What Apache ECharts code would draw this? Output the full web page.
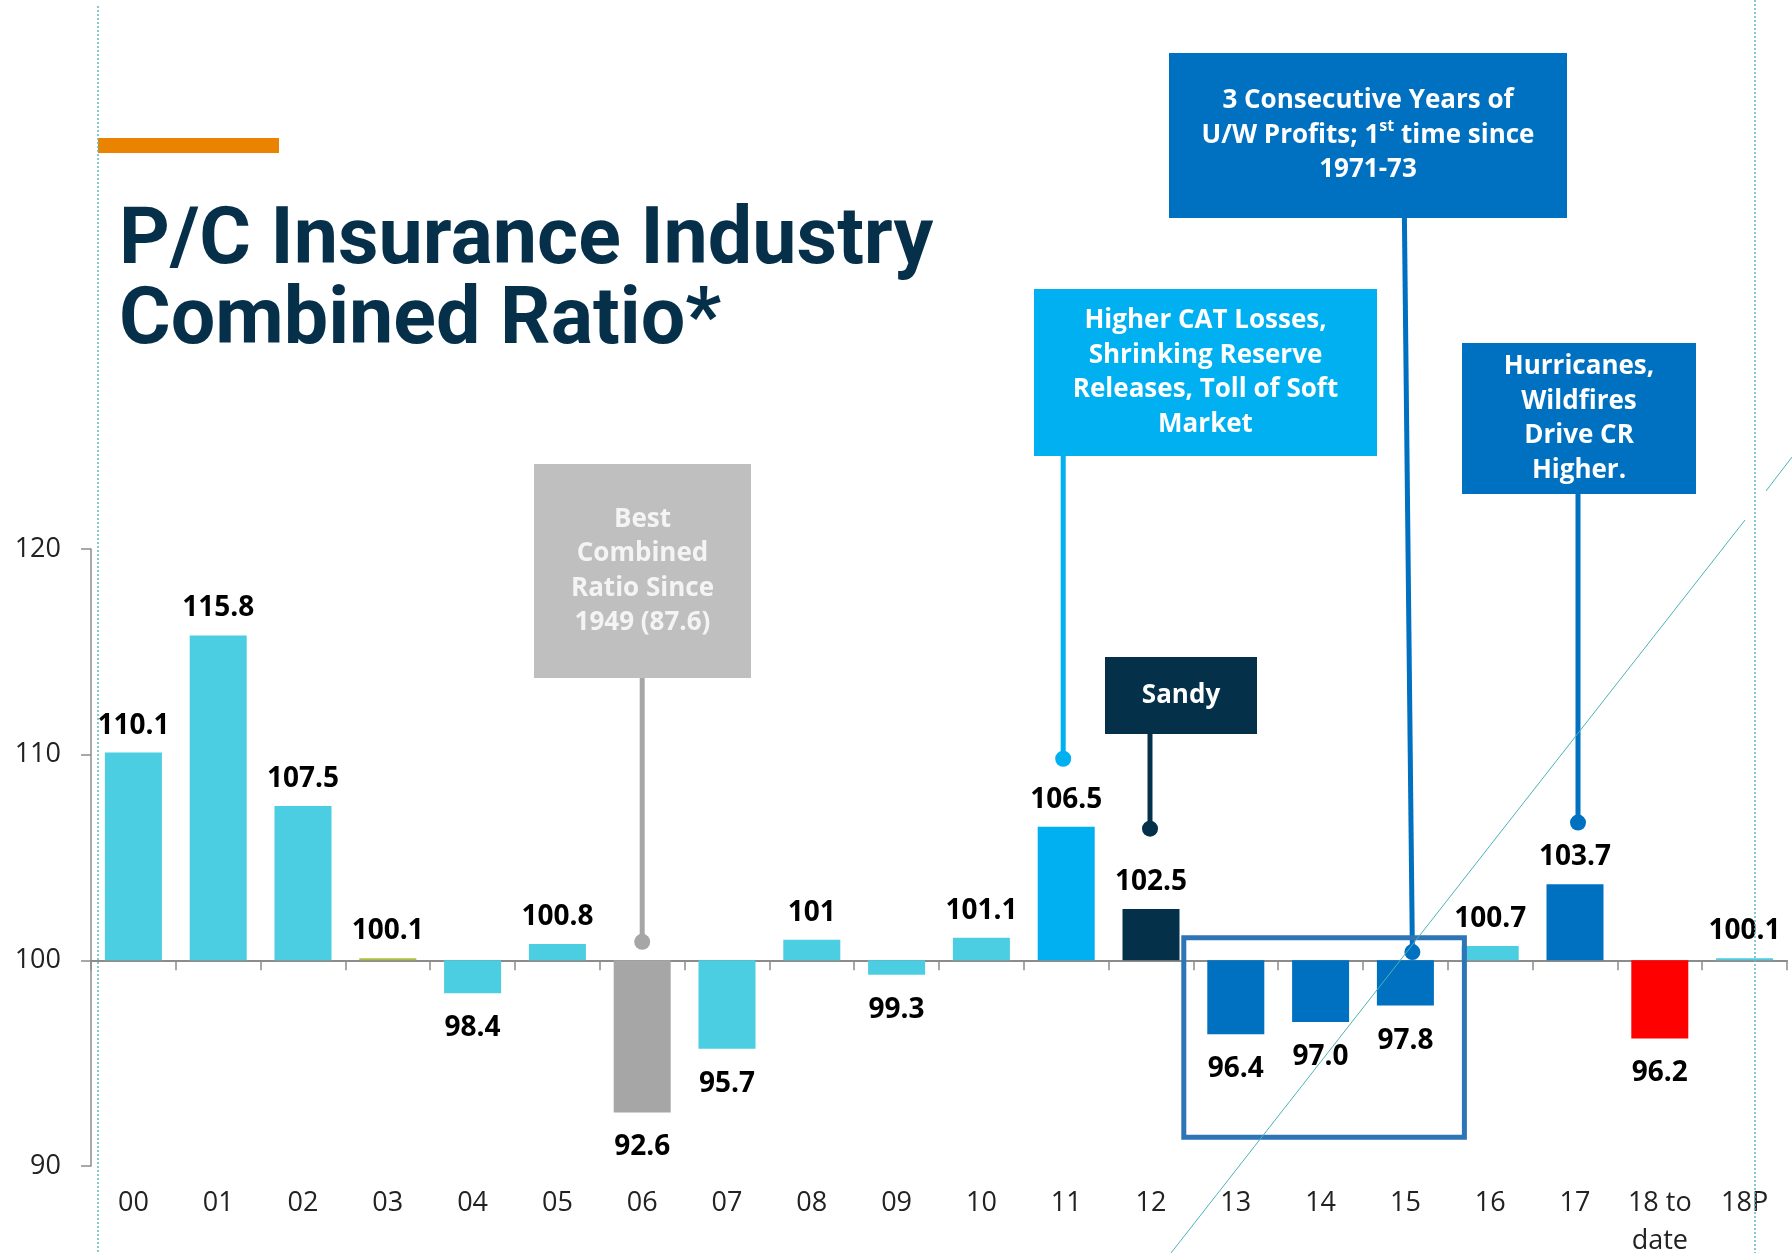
<!DOCTYPE html>
<html>
<head>
<meta charset="utf-8">
<title>P/C Insurance Industry Combined Ratio</title>
<script src="https://cdn.jsdelivr.net/npm/echarts@6/dist/echarts.min.js"></script>
<style>
  html, body { margin: 0; padding: 0; background: #fff; }
  #chart { width: 1792px; height: 1253px; }
</style>
</head>
<body>
<div id="chart"></div>
<script>
// data
const years = ["00", "01", "02", "03", "04", "05", "06", "07", "08", "09",
  "10", "11", "12", "13", "14", "15", "16", "17", "18 to\ndate", "18P"];
const combinedRatio = [110.1, 115.8, 107.5, 100.1, 98.4, 100.8, 92.6, 95.7, 101.0, 99.3,
  101.1, 106.5, 102.5, 96.4, 97.0, 97.8, 100.7, 103.7, 96.2, 100.1];
const ratioLabels = ["110.1", "115.8", "107.5", "100.1", "98.4", "100.8", "92.6", "95.7", "101", "99.3",
  "101.1", "106.5", "102.5", "96.4", "97.0", "97.8", "100.7", "103.7", "96.2", "100.1"];
const yTicks = [90, 100, 110, 120];
const BASE = 100;

// callouts: text, year they point at, value where the pin sits
const calloutText = [
  "Best\nCombined\nRatio Since\n1949 (87.6)",
  "Higher CAT Losses,\nShrinking Reserve\nReleases, Toll of Soft\nMarket",
  "Sandy",
  "3 Consecutive Years of\nU/W Profits; 1{s|st} time since\n1971-73",
  "Hurricanes,\nWildfires\nDrive CR\nHigher."
];
const calloutYear = [6, 11, 12, 15, 17];
const calloutPin = [100.9, 109.8, 106.4, 100.4, 106.7];

// styles
const cyan = "#4BCDE2", grayBar = "#A6A6A6", brightBlue = "#00B0F0",
  navy = "#04304A", blue = "#0070C0", red = "#FF0000";
const barColors = [cyan, cyan, cyan, "#A9C23F", cyan, cyan, grayBar, cyan, cyan, cyan,
  cyan, brightBlue, navy, blue, blue, blue, cyan, blue, red, cyan];
const boxes = [
  { x: 534, y: 464, w: 217, h: 214, fill: "#BFBFBF", text: "#F4F4F4", pin: grayBar, dx: 0, topDx: 0 },
  { x: 1034, y: 289, w: 343, h: 167, fill: brightBlue, text: "#fff", pin: brightBlue, dx: -3, topDx: -3 },
  { x: 1105, y: 657, w: 152, h: 77, fill: navy, text: "#fff", pin: navy, dx: -1, topDx: -1 },
  { x: 1169, y: 53, w: 398, h: 165, fill: blue, text: "#fff", pin: blue, dx: 7, topDx: -1 },
  { x: 1462, y: 343, w: 234, h: 151, fill: blue, text: "#fff", pin: blue, dx: 3, topDx: 3 }
];
const bodyFont = "'Open Sans', sans-serif";
const axisGray = "#8C8C8C";

const chart = echarts.init(document.getElementById("chart"), null, { renderer: "canvas" });

const option = {
  animation: false,
  backgroundColor: "#fff",
  grid: { left: 91, right: 5, top: 549, bottom: 87, containLabel: false, outerBoundsMode: "none" },
  xAxis: [
    {
      type: "category",
      data: years,
      position: "bottom",
      axisLine: { show: false, onZero: false },
      axisTick: { show: false },
      axisLabel: {
        margin: 18,
        fontFamily: bodyFont,
        fontSize: 27,
        lineHeight: 38,
        color: "#222"
      }
    },
    {
      type: "category",
      data: years,
      position: "bottom",
      axisLine: { show: true, onZero: true, lineStyle: { color: axisGray, width: 2 } },
      axisTick: { show: true, length: 10, lineStyle: { color: axisGray, width: 1.5 } },
      axisLabel: { show: false }
    }
  ],
  yAxis: {
    type: "value",
    min: yTicks[0] - BASE,
    max: yTicks[yTicks.length - 1] - BASE,
    interval: 10,
    splitLine: { show: false },
    axisLine: { show: true, lineStyle: { color: axisGray, width: 1.5 } },
    axisTick: { show: true, length: 10, lineStyle: { color: axisGray, width: 1.5 } },
    axisLabel: {
      margin: 30,
      fontFamily: bodyFont,
      fontSize: 27,
      color: "#222",
      formatter: (v) => String(v + BASE)
    }
  },
  series: [
    {
      type: "bar",
      xAxisIndex: 0,
      yAxisIndex: 0,
      barWidth: 57,
      data: combinedRatio.map((v, i) => ({
        value: +(v - BASE).toFixed(1),
        itemStyle: { color: barColors[i] },
        label: { distance: v < BASE ? 21 : 13 }
      })),
      label: {
        show: true,
        position: "outside",
        formatter: (p) => ratioLabels[p.dataIndex],
        fontFamily: bodyFont,
        fontWeight: "bold",
        fontSize: 28,
        color: "#000"
      }
    }
  ]
};

chart.setOption(option);

const toPx = (i, v) => chart.convertToPixel({ xAxisIndex: 0, yAxisIndex: 0 }, [i, v - BASE]);

const graphics = [];

// slide decoration
graphics.push({
  type: "line", silent: true, z: 50,
  shape: { x1: 98, y1: 6, x2: 98, y2: 1253 },
  style: { stroke: "#5FB8BD", lineWidth: 1.5, lineDash: [2, 2] }
});
graphics.push({
  type: "line", silent: true, z: 50,
  shape: { x1: 1755, y1: 0, x2: 1755, y2: 1253 },
  style: { stroke: "#5FB8BD", lineWidth: 1.5, lineDash: [2, 2] }
});
graphics.push({
  type: "line", silent: true, z: 50,
  shape: { x1: 1171, y1: 1253, x2: 1745, y2: 520 },
  style: { stroke: "#4DB3B5", lineWidth: 1 }
});
graphics.push({
  type: "line", silent: true, z: 50,
  shape: { x1: 1766, y1: 491, x2: 1792, y2: 457 },
  style: { stroke: "#4DB3B5", lineWidth: 1 }
});
graphics.push({
  type: "rect", silent: true,
  shape: { x: 98, y: 138, width: 181, height: 15 },
  style: { fill: "#EA8400" }
});
graphics.push({
  type: "text", silent: true,
  x: 119, y: 243,
  style: {
    text: "P/C Insurance Industry",
    fontFamily: "Roboto, sans-serif", fontWeight: "bold", fontSize: 79,
    fill: "#06304A", align: "left", verticalAlign: "middle"
  }
});
graphics.push({
  type: "text", silent: true,
  x: 119, y: 323,
  style: {
    text: "Combined Ratio*",
    fontFamily: "Roboto, sans-serif", fontWeight: "bold", fontSize: 79,
    fill: "#06304A", align: "left", verticalAlign: "middle"
  }
});

// callout boxes with their pins
calloutText.forEach((txt, k) => {
  const b = boxes[k];
  const pin = toPx(calloutYear[k], calloutPin[k]);
  const px = pin[0] + b.dx;
  graphics.push({
    type: "line", silent: true, z: 20,
    shape: { x1: pin[0] + b.topDx, y1: b.y + b.h, x2: px, y2: pin[1] },
    style: { stroke: b.pin, lineWidth: 5 }
  });
  graphics.push({
    type: "circle", silent: true, z: 21,
    shape: { cx: px, cy: pin[1], r: 8 },
    style: { fill: b.pin }
  });
  graphics.push({
    type: "rect", silent: true, z: 22,
    shape: { x: b.x, y: b.y, width: b.w, height: b.h },
    style: { fill: b.fill }
  });
  graphics.push({
    type: "text", silent: true, z: 23,
    x: b.x + b.w / 2, y: b.y + b.h / 2,
    style: {
      text: txt,
      fontFamily: bodyFont, fontWeight: "bold", fontSize: 26,
      lineHeight: 34.5,
      fill: b.text, align: "center", verticalAlign: "middle",
      rich: {
        s: { fontFamily: bodyFont, fontWeight: "bold", fontSize: 16, fill: b.text, verticalAlign: "top", lineHeight: 34.5, padding: [0, 0, 12, 0] }
      }
    }
  });
});

// frame around the three profitable years
const left13 = toPx(13, 101)[0] - 52;
const right15 = toPx(15, 101)[0] + 59;
const frameTop = toPx(13, 101.1)[1];
const frameBottom = toPx(13, 91.4)[1];
graphics.push({
  type: "rect", silent: true, z: 24,
  shape: { x: left13, y: frameTop, width: right15 - left13, height: frameBottom - frameTop },
  style: { fill: "none", stroke: "#2E75B6", lineWidth: 5 }
});

chart.setOption({ graphic: graphics });
</script>
</body>
</html>
